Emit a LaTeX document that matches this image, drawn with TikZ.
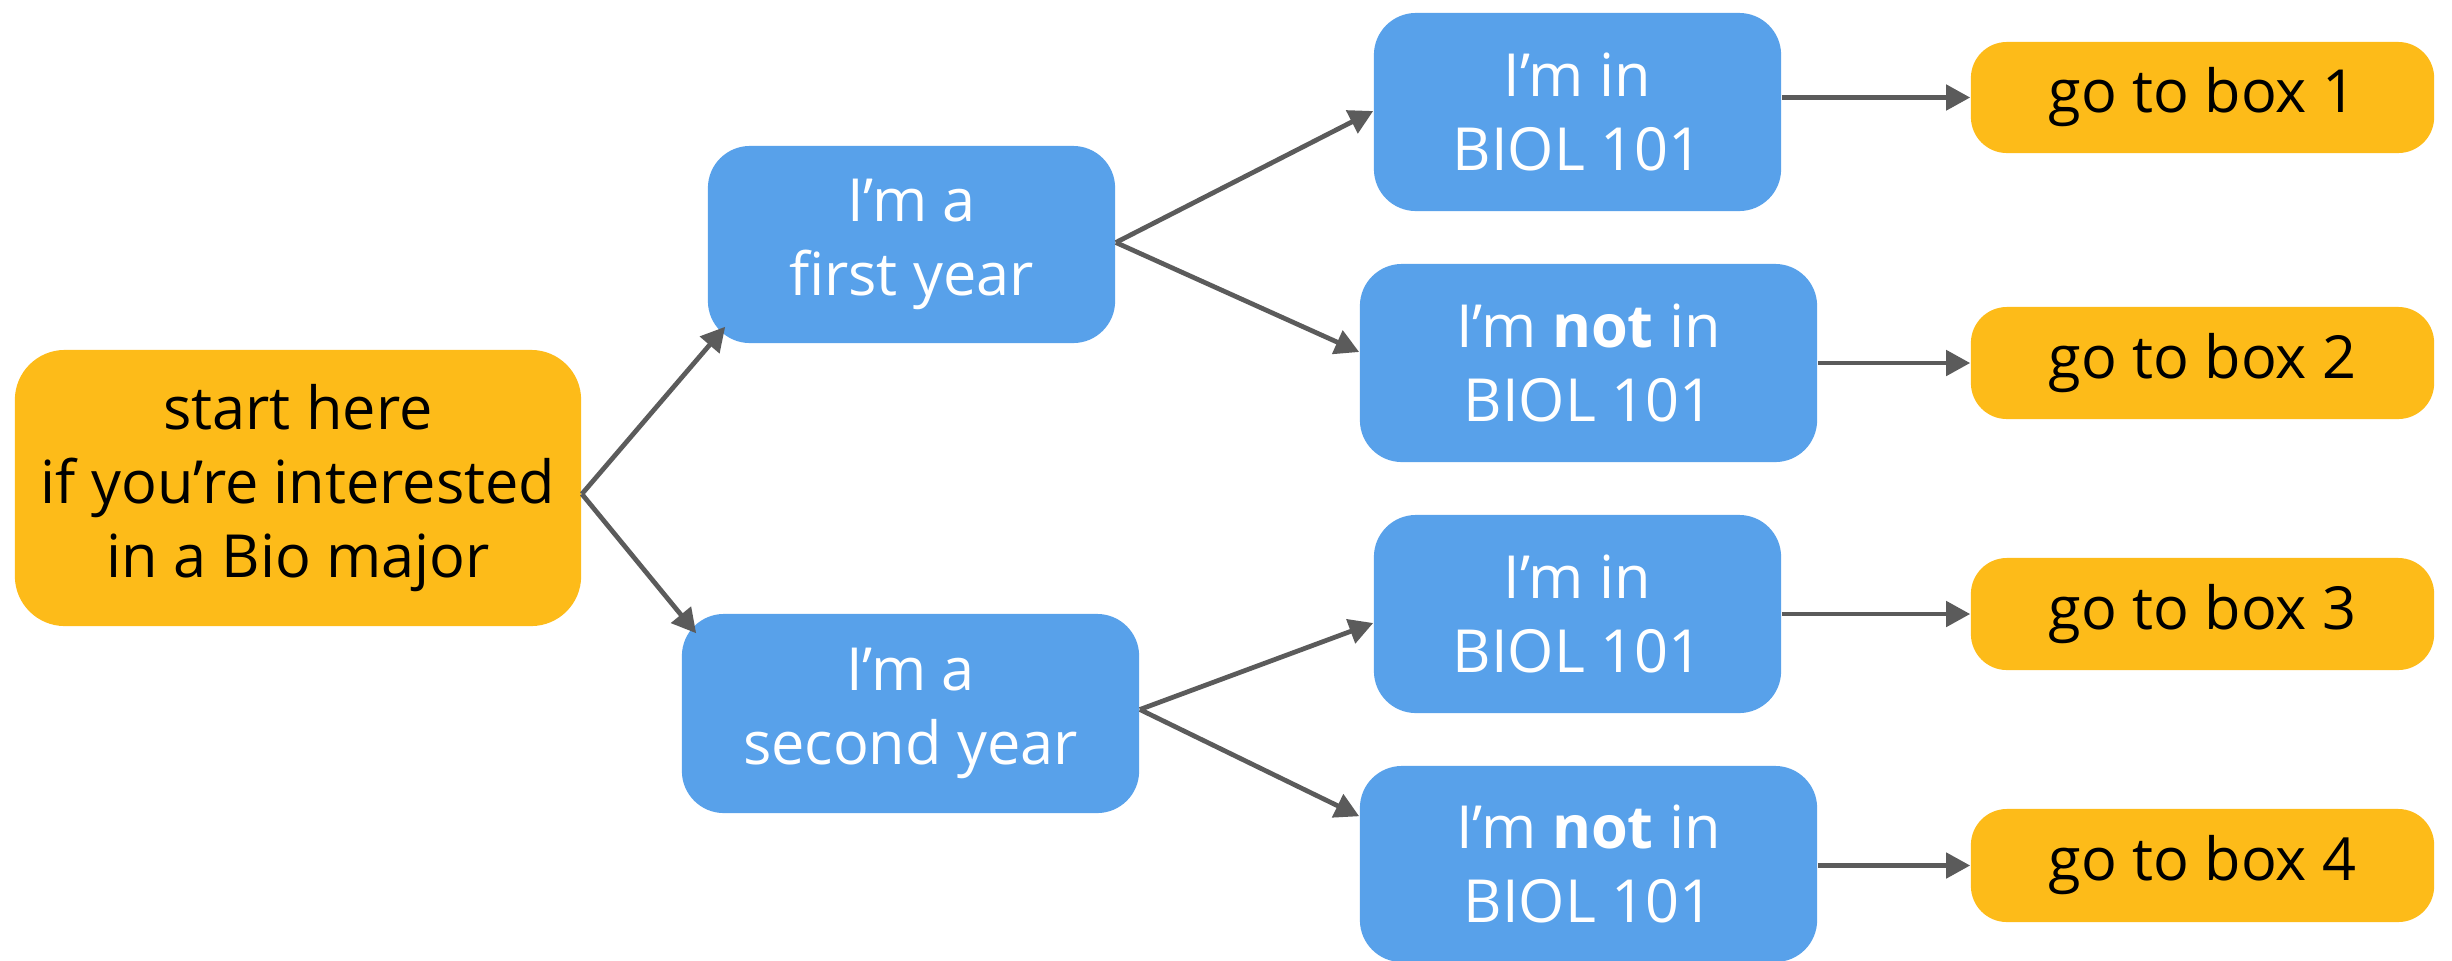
\documentclass[tikz,border=0pt]{standalone}
\usepackage{fontspec}
\setmainfont{Open Sans}
\usetikzlibrary{arrows.meta,calc}
\definecolor{boxyellow}{HTML}{FDBB19}
\definecolor{boxblue}{HTML}{58A1EA}
\definecolor{arrowgray}{HTML}{5B5B5B}
\begin{document}
\begin{tikzpicture}[x=0.01cm,y=-0.01cm,
  base/.style={rectangle,inner sep=0pt,align=center,
    font=\fontsize{16.9pt}{21pt}\selectfont},
  ybox/.style={base,fill=boxyellow,text=black},
  bbox/.style={base,fill=boxblue,text=white,rounded corners=0.42cm},
  conn/.style={draw=arrowgray,line width=1.35pt,
    -{Triangle[length=0.24cm,width=0.25cm]}}]
\useasboundingbox (0,0) rectangle (2452,960);
\node[ybox,rounded corners=0.5cm,minimum width=5.66cm,minimum height=2.76cm] (start) at (298,488)
  {start here\\if you’re interested\\in a Bio major};
\node[bbox,minimum width=4.07cm,minimum height=1.97cm] (first) at (911.5,244.5) {I’m a\\first year};
\node[bbox,minimum width=4.57cm,minimum height=1.99cm] (second) at (910.5,713.5) {I’m a\\second year};
\node[bbox,minimum width=4.07cm,minimum height=1.98cm] (in1) at (1577.5,112) {I’m in\\BIOL 101};
\node[bbox,minimum width=4.57cm,minimum height=1.98cm] (not2) at (1588.5,363) {I’m \textbf{not} in\\BIOL 101};
\node[bbox,minimum width=4.07cm,minimum height=1.98cm] (in3) at (1577.5,614) {I’m in\\BIOL 101};
\node[bbox,minimum width=4.57cm,minimum height=1.96cm] (not4) at (1588.5,864) {I’m \textbf{not} in\\BIOL 101};
\node[ybox,rounded corners=0.36cm,minimum width=4.63cm,minimum height=1.11cm] (go1) at (2202.5,97.5) {go to box 1};
\node[ybox,rounded corners=0.36cm,minimum width=4.63cm,minimum height=1.12cm] (go2) at (2202.5,363) {go to box 2};
\node[ybox,rounded corners=0.36cm,minimum width=4.63cm,minimum height=1.12cm] (go3) at (2202.5,614) {go to box 3};
\node[ybox,rounded corners=0.36cm,minimum width=4.63cm,minimum height=1.13cm] (go4) at (2202.5,865.5) {go to box 4};
\coordinate (fork0) at ($(start.east)+(0,6)$);
\draw[conn] (fork0) -- ($(first.south west)+(18,-17)$);
\draw[conn] (fork0) -- ($(second.north west)+(15,20)$);
\coordinate (fork1) at ($(first.east)+(0,-2)$);
\draw[conn] (fork1) -- ($(in1.west)+(0,-1)$);
\draw[conn] (fork1) -- ($(not2.west)+(0,-11)$);
\coordinate (fork2) at ($(second.east)+(0,-4)$);
\draw[conn] (fork2) -- ($(in3.west)+(0,9)$);
\draw[conn] (fork2) -- ($(not4.north west)+(0,51)$);
\draw[conn] (in1.east |- go1.west) -- (go1.west);
\draw[conn] (not2.east |- go2.west) -- (go2.west);
\draw[conn] (in3.east |- go3.west) -- (go3.west);
\draw[conn] (not4.east |- go4.west) -- (go4.west);
\end{tikzpicture}
\end{document}
